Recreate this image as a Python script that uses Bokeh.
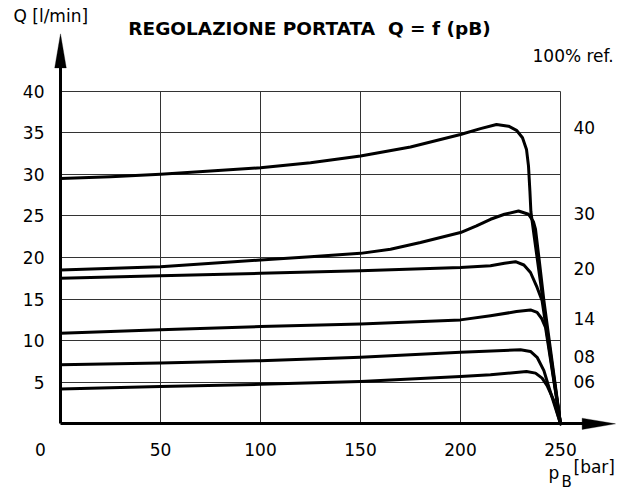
from bokeh.plotting import figure
from bokeh.models import Range1d, FixedTicker, Label, PolyAnnotation
from bokeh.embed import file_html
from bokeh.resources import INLINE

# ---------------- data ----------------
x_ticks = [50, 100, 150, 200, 250]
y_ticks = [5, 10, 15, 20, 25, 30, 35, 40]

curve_names = ["40", "30", "20", "14", "08", "06"]

q40_p = [0, 25, 50, 75, 100, 125, 150, 175, 200, 210, 218, 224, 228, 231, 233, 234, 234.7, 235.2, 236.7, 239.2, 241.7, 250]
q40_q = [29.5, 29.7, 30.0, 30.4, 30.8, 31.4, 32.2, 33.3, 34.8, 35.5, 36.0, 35.8, 35.3, 34.4, 33.0, 31.0, 28.0, 25.5, 22.8, 18.4, 14.0, 0]

q30_p = [0, 50, 100, 125, 150, 165, 180, 190, 200, 208, 215, 222, 229, 234, 236.5, 237.5, 238.3, 239.2, 241.7, 250]
q30_q = [18.5, 18.9, 19.7, 20.1, 20.5, 21.0, 21.8, 22.4, 23.0, 23.8, 24.6, 25.2, 25.6, 25.2, 24.3, 23.4, 21.8, 20.0, 14.8, 0]

q20_p = [0, 50, 100, 150, 200, 215, 222, 227.5, 231.7, 235, 238.3, 240.8, 250]
q20_q = [17.5, 17.8, 18.1, 18.4, 18.8, 19.0, 19.3, 19.5, 19.1, 18.2, 16.4, 14.8, 0]

q14_p = [0, 50, 100, 150, 200, 215, 228, 235, 238.3, 240.5, 242.5, 250]
q14_q = [10.9, 11.3, 11.7, 12.0, 12.5, 13.0, 13.5, 13.7, 13.4, 12.7, 11.6, 0]

q08_p = [0, 50, 100, 150, 200, 230, 235, 238.3, 241.7, 244.2, 250]
q08_q = [7.1, 7.3, 7.6, 8.0, 8.6, 8.9, 8.7, 8.0, 6.4, 4.4, 0]

q06_p = [0, 50, 100, 150, 200, 215, 233, 237.5, 240.8, 243.3, 246.7, 250]
q06_q = [4.2, 4.5, 4.75, 5.1, 5.7, 5.9, 6.3, 6.1, 5.5, 4.6, 2.8, 0]

curves_p = [q40_p, q30_p, q20_p, q14_p, q08_p, q06_p]
curves_q = [q40_q, q30_q, q20_q, q14_q, q08_q, q06_q]

# layout: vertical positions (data units) of the curve name labels on the right
name_label_y = [35.67, 25.25, 18.64, 12.63, 8.06, 5.05]

# ---------------- figure ----------------
FONT = "DejaVu Sans"
GRID = "#333333"

# the frame covers the whole canvas so that arrows and texts outside the
# 0..250 x 0..40 grid stay visible
p = figure(width=630, height=495,
           x_range=Range1d(-30, 285), y_range=Range1d(-8.62, 50.91),
           output_backend="svg", toolbar_location=None,
           min_border=0, min_border_left=0, min_border_right=0,
           min_border_top=0, min_border_bottom=0)

p.background_fill_color = "white"
p.border_fill_color = "white"
p.outline_line_color = None

xa = p.xaxis[0]
ya = p.yaxis[0]
xa.fixed_location = 0
ya.fixed_location = 0
xa.bounds = (0, 262)
ya.bounds = (0, 43.5)

for ax, ticks in ((xa, x_ticks), (ya, y_ticks)):
    ax.ticker = FixedTicker(ticks=ticks)
    ax.axis_line_color = "black"
    ax.axis_line_width = 3
    ax.major_tick_line_color = None
    ax.minor_tick_line_color = None
    ax.major_tick_out = 0
    ax.major_tick_in = 0
    ax.major_label_text_font = FONT
    ax.major_label_text_font_size = "17px"
    ax.major_label_text_color = "black"

xa.major_label_standoff = 19
ya.major_label_standoff = 16

grid_ok = True
try:
    p.xgrid.cross_bounds = (0, 40)
    p.ygrid.cross_bounds = (0, 250)
except AttributeError:
    grid_ok = False

if grid_ok:
    p.xgrid.grid_line_color = GRID
    p.ygrid.grid_line_color = GRID
    p.xgrid.grid_line_width = 1
    p.ygrid.grid_line_width = 1
else:
    p.xgrid.visible = False
    p.ygrid.visible = False
    p.segment(x0=x_ticks, y0=[0] * len(x_ticks), x1=x_ticks, y1=[40] * len(x_ticks),
              line_color=GRID, line_width=1)
    p.segment(x0=[0] * len(y_ticks), y0=y_ticks, x1=[250] * len(y_ticks), y1=y_ticks,
              line_color=GRID, line_width=1)

for xs, ys in zip(curves_p, curves_q):
    p.line(xs, ys, line_color="black", line_width=3, line_join="round", line_cap="round")

# arrow heads at the ends of the axes
p.add_layout(PolyAnnotation(xs=[-2.9, 2.9, 0], ys=[42.8, 42.8, 46.9],
                            fill_color="black", fill_alpha=1, line_color="black", line_width=1))
p.add_layout(PolyAnnotation(xs=[260.8, 260.8, 277.5], ys=[-0.68, 0.68, 0],
                            fill_color="black", fill_alpha=1, line_color="black", line_width=1))

def lab(x, y, text, size="17px", style="normal", align="left", baseline="alphabetic"):
    p.add_layout(Label(x=x, y=y, text=text, text_font=FONT, text_font_size=size,
                       text_font_style=style, text_align=align, text_baseline=baseline,
                       text_color="black"))

# title and axis titles
lab(124.5, 47.51, "REGOLAZIONE PORTATA \u00a0Q = f (pB)", size="18.5px", style="bold", align="center")
lab(-23.5, 49.1, "Q [l/min]")
lab(236, 44.21, "100% ref.")
lab(-10, -3.09, "0", align="center")
lab(244, -5.86, "p")
lab(250.5, -6.94, "B", size="15px")
lab(256.5, -5.14, "[bar]", size="17px")

# curve names on the right
for name, yy in zip(curve_names, name_label_y):
    lab(256.5, yy, name)

open("out.html", "w").write(file_html(p, INLINE))
